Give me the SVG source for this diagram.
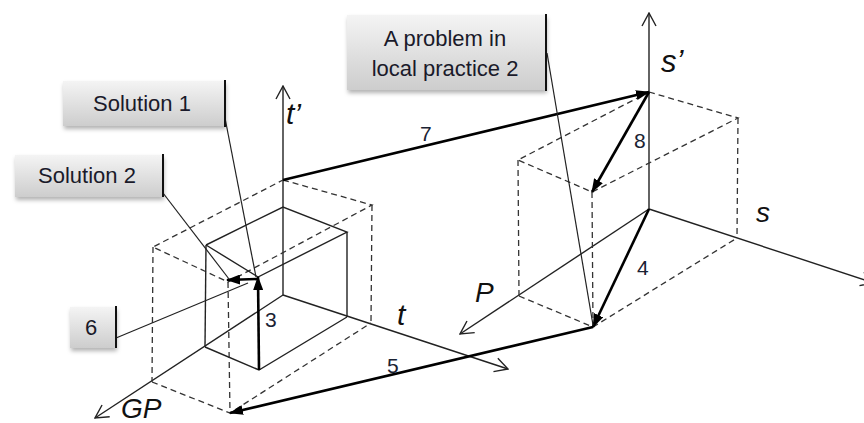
<svg xmlns="http://www.w3.org/2000/svg" width="864" height="423" viewBox="0 0 864 423">
<style>
.ax{stroke:#222;stroke-width:1.4;fill:none}
.ed{stroke:#222;stroke-width:1.4;fill:none}
.ds{stroke:#333;stroke-width:1.3;fill:none;stroke-dasharray:6 4}
.bd{stroke:#000;stroke-width:2.6;fill:none}
.ld{stroke:#222;stroke-width:1.2;fill:none}
.bar{stroke:#111;stroke-width:2}
.box{fill:url(#g);}
.bt{font-family:"Liberation Sans",Arial,sans-serif;font-size:22px;fill:#1a1a2a}
.num{font-family:"Liberation Sans",Arial,sans-serif;font-size:21px;fill:#1a2233}
.lab{font-family:"Liberation Sans",Arial,sans-serif;font-style:italic;fill:#111}
</style>
<defs>
<linearGradient id="g" x1="0" y1="0" x2="0" y2="1">
<stop offset="0" stop-color="#f4f4f4"/>
<stop offset="1" stop-color="#cdcdcd"/>
</linearGradient>
<filter id="sh" x="-20%" y="-20%" width="140%" height="160%">
<feDropShadow dx="1" dy="3" stdDeviation="2" flood-color="#000" flood-opacity="0.3"/>
</filter>
<marker id="va" viewBox="0 0 16 16" refX="15" refY="8" markerWidth="16" markerHeight="16" markerUnits="userSpaceOnUse" orient="auto">
<path d="M2,1 L15,8 L2,15" fill="none" stroke="#222" stroke-width="1.4"/>
</marker>
<marker id="ba" viewBox="0 0 14 10" refX="13" refY="5" markerWidth="14" markerHeight="10" markerUnits="userSpaceOnUse" orient="auto">
<path d="M0,0 L14,5 L0,10 z" fill="#000"/>
</marker>
</defs>

<g id="left-system">
<line class="ax" x1="283" y1="295" x2="283" y2="86" marker-end="url(#va)"/>
<line class="ax" x1="283" y1="295" x2="508" y2="369" marker-end="url(#va)"/>
<line class="ax" x1="283" y1="295" x2="95" y2="418" marker-end="url(#va)"/>
</g>

<g id="left-dashed-box">
<polyline class="ds" points="283,180 372,205 228,282 153,247 283,180"/>
<line class="ds" x1="153" y1="247" x2="152" y2="382"/>
<line class="ds" x1="372" y1="205" x2="371" y2="323"/>
<line class="ds" x1="228" y1="282" x2="230" y2="413"/>
<polyline class="ds" points="152,382 230,413 371,323"/>
</g>

<g id="left-solid-box">
<polyline class="ed" points="206,245 283,207 347,232 258,277 206,245"/>
<line class="ed" x1="206" y1="245" x2="205" y2="347"/>
<line class="ed" x1="347" y1="232" x2="347" y2="317"/>
<polyline class="ed" points="205,347 259,370 347,317"/>
</g>

<g id="right-system">
<line class="ax" x1="649" y1="209" x2="649" y2="13" marker-end="url(#va)"/>
<line class="ax" x1="649" y1="209" x2="874" y2="283" marker-end="url(#va)"/>
<line class="ax" x1="649" y1="209" x2="460" y2="334" marker-end="url(#va)"/>
</g>

<g id="right-dashed-box">
<polyline class="ds" points="649,92 738,118 592,192 518,160 649,92"/>
<line class="ds" x1="518" y1="160" x2="519" y2="296"/>
<line class="ds" x1="738" y1="118" x2="737" y2="238"/>
<line class="ds" x1="592" y1="192" x2="593" y2="327"/>
<polyline class="ds" points="519,296 593,327 737,238"/>
</g>

<g id="connectors">
<line class="bd" x1="283" y1="180" x2="649" y2="92" marker-end="url(#ba)"/>
<line class="bd" x1="649" y1="92" x2="592" y2="192" marker-end="url(#ba)"/>
<line class="bd" x1="649" y1="209" x2="593" y2="327" marker-end="url(#ba)"/>
<line class="bd" x1="593" y1="327" x2="230" y2="413" marker-end="url(#ba)"/>
<line class="bd" x1="259" y1="370" x2="258" y2="277" marker-end="url(#ba)"/>
<line class="bd" x1="258" y1="279" x2="227" y2="280" marker-end="url(#ba)"/>
<line class="ld" x1="225" y1="118" x2="256" y2="277"/>
<line class="ld" x1="163" y1="193" x2="229" y2="279"/>
<line class="ld" x1="116" y1="338" x2="248" y2="283"/>
<line class="ld" x1="547" y1="53" x2="593" y2="325"/>
</g>

<g id="labels">
<text class="num" x="420" y="141">7</text>
<text class="num" x="634" y="148">8</text>
<text class="num" x="637" y="275">4</text>
<text class="num" x="387" y="373">5</text>
<text class="num" x="265" y="327">3</text>
<text class="lab" x="286" y="124" font-size="30">t’</text>
<text class="lab" x="661" y="72" font-size="31">s’</text>
<text class="lab" x="756" y="222" font-size="28">s</text>
<text class="lab" x="397" y="325" font-size="30">t</text>
<text class="lab" x="475" y="302" font-size="28">P</text>
<text class="lab" x="121" y="418" font-size="28">GP</text>
</g>

<g id="solution1">
<rect class="box" x="63" y="81" width="162" height="45" filter="url(#sh)"/>
<line class="bar" x1="225" y1="80" x2="225" y2="127"/>
<text class="bt" x="142" y="111" text-anchor="middle">Solution 1</text>
</g>

<g id="solution2">
<rect class="box" x="15" y="155" width="148" height="42" filter="url(#sh)"/>
<line class="bar" x1="163" y1="154" x2="163" y2="197"/>
<text class="bt" x="87" y="183" text-anchor="middle">Solution 2</text>
</g>

<g id="problem">
<rect class="box" x="347" y="15" width="199" height="75" filter="url(#sh)"/>
<line class="bar" x1="546" y1="14" x2="546" y2="91"/>
<text class="bt" x="445" y="46" text-anchor="middle">A problem in</text>
<text class="bt" x="445" y="76" text-anchor="middle">local practice 2</text>
</g>

<g id="box6">
<rect class="box" x="70" y="307" width="46" height="41" filter="url(#sh)"/>
<line class="bar" x1="116" y1="306" x2="116" y2="348"/>
<text class="bt" x="91" y="335" text-anchor="middle">6</text>
</g>
</svg>
